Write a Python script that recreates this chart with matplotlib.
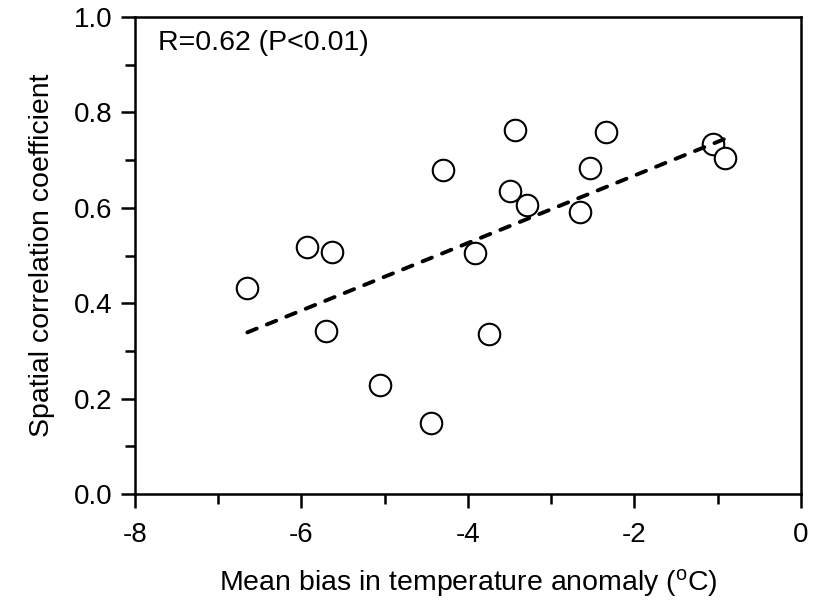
import numpy as np
import matplotlib
matplotlib.use("Agg")
import matplotlib.pyplot as plt
from matplotlib.ticker import MultipleLocator

plt.rcParams["font.family"] = ["Liberation Sans", "DejaVu Sans"]
plt.rcParams["mathtext.default"] = "regular"
plt.rcParams["axes.unicode_minus"] = False

# ---------------------------
# DATA
# ---------------------------
mean_bias = [-6.65, -5.93, -5.63, -5.70, -5.06, -4.45, -4.30, -3.92, -3.75,
             -3.50, -3.44, -3.29, -2.65, -2.54, -2.34, -1.06, -0.91]
spatial_corr = [0.432, 0.519, 0.507, 0.342, 0.228, 0.149, 0.679, 0.505, 0.335,
                0.635, 0.764, 0.606, 0.591, 0.684, 0.759, 0.734, 0.705]

fit_x = [-6.65, -0.91]
fit_y = [0.339, 0.745]

annotation = "R=0.62 (P<0.01)"

# ---------------------------
# PLOT
# ---------------------------
fig = plt.figure(figsize=(8.15, 6.1), dpi=100)
ax = fig.add_axes([0.1656, 0.19, 0.8172, 0.782])

ax.scatter(mean_bias, spatial_corr, s=240, facecolors="white",
           edgecolors="black", linewidths=1.5, zorder=3)
ax.plot(fit_x, fit_y, color="black", lw=2.8, dashes=(2.6, 2.8),
        dash_capstyle="round", zorder=4)

ax.set_xlim(-8, 0)
ax.set_ylim(0, 1.0)
ax.xaxis.set_major_locator(MultipleLocator(2))
ax.xaxis.set_minor_locator(MultipleLocator(1))
ax.yaxis.set_major_locator(MultipleLocator(0.2))
ax.yaxis.set_minor_locator(MultipleLocator(0.1))
ax.xaxis.set_major_formatter(plt.FuncFormatter(lambda v, p: f"{v:.0f}"))
ax.yaxis.set_major_formatter(plt.FuncFormatter(lambda v, p: f"{v:.1f}"))

ax.tick_params(which="both", direction="out", width=1.8, top=False, right=False,
               labelsize=20)
ax.tick_params(which="major", length=10)
ax.tick_params(which="minor", length=7)
ax.tick_params(axis="x", pad=10)
ax.tick_params(axis="y", pad=6)
for sp in ax.spines.values():
    sp.set_linewidth(1.8)

ax.set_xlabel("Mean bias in temperature anomaly ($^{o}$C)", fontsize=20.5, labelpad=14)
ax.set_ylabel("Spatial correlation coefficient", fontsize=20.5, labelpad=14)

ax.text(0.035, 0.945, annotation, transform=ax.transAxes, fontsize=20.5,
        ha="left", va="center")

plt.savefig("out.png", dpi=100)
